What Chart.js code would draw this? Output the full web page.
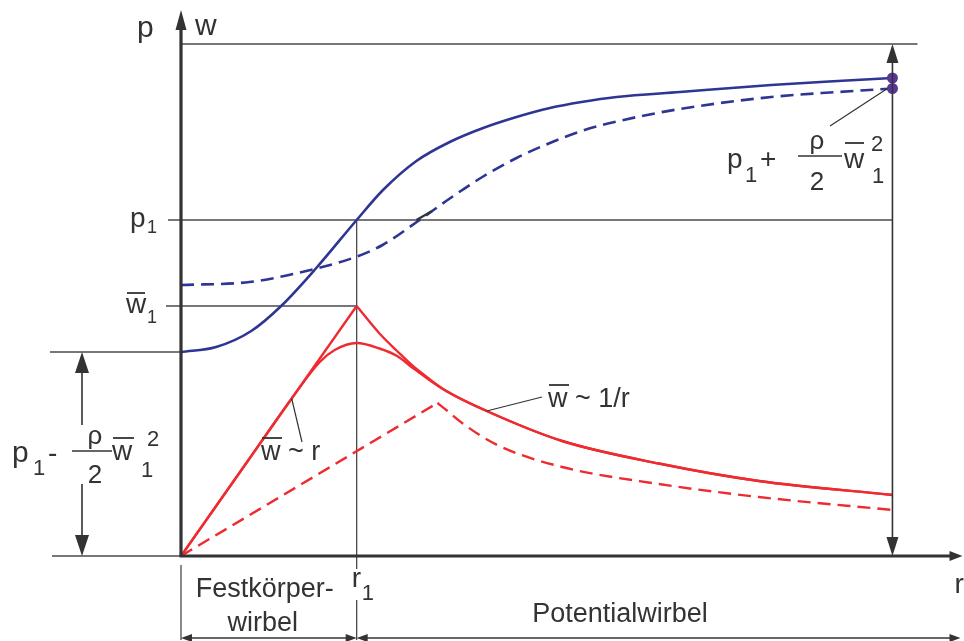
<!DOCTYPE html>
<html>
<head>
<meta charset="utf-8">
<script src="https://cdn.jsdelivr.net/npm/chart.js@4"></script>
<style>
  html, body { margin: 0; padding: 0; background: #fff; }
  #wrap { width: 964px; height: 641px; }
</style>
</head>
<body>
<div id="wrap"><canvas id="vortexChart" width="964" height="641"></canvas></div>
<script>
// r is in units of r1, w and p share one axis (w in units of w1)
const R1 = 1.0;
const R_END = 4.05;
const W1 = 1.0;
const P1 = 1.344;
const P_CORE = 0.816;   // p1 - rho/2 w1^2
const P_TOP = 2.048;    // p1 + rho/2 w1^2

// ideal Rankine vortex velocity: solid body core + potential vortex
const rCore = [0, 1.00];
const wCore = [0, 1.00];
const rPot = [1.00, 1.13, 1.23, 1.32, 1.41, 1.51, 1.74, 2.17, 2.72, 3.29, 4.05];
const wPot = [1.00, 0.89, 0.82, 0.76, 0.71, 0.66, 0.58, 0.46, 0.37, 0.30, 0.244];

// real (smoothed) velocity profile
const rReal = [0, 0.39, 0.62, 0.79, 0.875, 1.00, 1.13, 1.23, 1.32, 1.41, 1.51, 1.74, 2.17, 2.72, 3.29, 4.05];
const wReal = [0, 0.39, 0.62, 0.776, 0.824, 0.852, 0.83, 0.80, 0.752, 0.706, 0.66, 0.58, 0.46, 0.37, 0.30, 0.244];

// second (dashed) velocity profile, larger core
const rCore2 = [0, 1.46];
const wCore2 = [0, 0.612];
const rPot2 = [1.46, 1.51, 1.60, 1.80, 2.17, 2.72, 3.29, 4.05];
const wPot2 = [0.612, 0.584, 0.532, 0.444, 0.356, 0.288, 0.236, 0.184];

// pressure profiles
const rP = [0, 0.20, 0.40, 0.57, 0.77, 1.00, 1.15, 1.34, 1.53, 1.72, 1.91, 2.10, 2.28, 2.48, 2.84, 3.36, 3.74, 4.05];
const pSolid = [0.816, 0.836, 0.90, 1.00, 1.152, 1.344, 1.464, 1.58, 1.656, 1.712, 1.756, 1.792, 1.816, 1.836, 1.856, 1.884, 1.900, 1.912];
const rP2 = [0, 0.39, 0.77, 1.01, 1.15, 1.34, 1.53, 1.72, 1.91, 2.10, 2.28, 2.48, 2.84, 3.36, 3.74, 4.05];
const pDashed = [1.084, 1.096, 1.15, 1.20, 1.245, 1.335, 1.43, 1.518, 1.592, 1.652, 1.70, 1.738, 1.788, 1.836, 1.856, 1.870];

// end points marked on the right
const rDots = [4.05, 4.05];
const pDots = [1.912, 1.870];

const BLUE = '#2e3592';
const RED = '#ee2b30';
const PURPLE = '#5a3797';
const INK = '#333333';
const FONT = '"Liberation Sans", Arial, sans-serif';

const pts = (xs, ys) => xs.map((v, i) => ({ x: v, y: ys[i] }));

function line(ctx, x1, y1, x2, y2) {
  ctx.beginPath();
  ctx.moveTo(x1, y1);
  ctx.lineTo(x2, y2);
  ctx.stroke();
}

// filled arrow head, tip at (x, y), pointing in direction (dx, dy)
function arrowHead(ctx, x, y, dx, dy, len, half) {
  const bx = x - dx * len, by = y - dy * len;
  ctx.beginPath();
  ctx.moveTo(x, y);
  ctx.lineTo(bx - dy * half, by + dx * half);
  ctx.lineTo(bx + dy * half, by - dx * half);
  ctx.closePath();
  ctx.fill();
}

function text(ctx, str, x, y, size, align) {
  ctx.font = size + 'px ' + FONT;
  ctx.textAlign = align || 'left';
  ctx.fillText(str, x, y);
}

function overline(ctx, x1, x2, y) {
  ctx.lineWidth = 1.8;
  line(ctx, x1, y, x2, y);
}

const diagramPlugin = {
  id: 'diagram',
  beforeDatasetsDraw(chart) {
    const { ctx, scales: { x, y } } = chart;
    const X = v => x.getPixelForValue(v);
    const Y = v => y.getPixelForValue(v);
    const x0 = X(0), y0 = Y(0), xr1 = X(R1), xEnd = X(R_END);

    ctx.save();
    ctx.strokeStyle = '#4a4a4a';
    ctx.lineWidth = 1.3;
    line(ctx, x0, Y(P_TOP), xEnd + 25, Y(P_TOP));
    line(ctx, x0 - 13, Y(P1), xEnd, Y(P1));
    line(ctx, x0 - 15, Y(W1), xr1, Y(W1));
    line(ctx, x0 - 131, Y(P_CORE), x0, Y(P_CORE));
    line(ctx, x0 - 129, y0, x0, y0);
    // r1 vertical
    line(ctx, xr1, Y(P1), xr1, y0 + 13);
    line(ctx, xr1, y0 + 44, xr1, y0 + 84);
    // left edge of the bottom dimension
    line(ctx, x0, y0 + 9, x0, y0 + 84);
    ctx.restore();
  },
  afterDatasetsDraw(chart) {
    const { ctx, scales: { x, y }, chartArea } = chart;
    const X = v => x.getPixelForValue(v);
    const Y = v => y.getPixelForValue(v);
    const x0 = X(0), y0 = Y(0), xr1 = X(R1), xEnd = X(R_END);

    ctx.save();
    ctx.fillStyle = INK;
    ctx.strokeStyle = INK;

    // main axes
    ctx.lineWidth = 3.2;
    line(ctx, x0, y0, x0, chartArea.top + 16);
    arrowHead(ctx, x0, chartArea.top, 0, -1, 20, 5.5);
    line(ctx, x0 - 1.5, y0, chartArea.right - 6, y0);
    arrowHead(ctx, chartArea.right + 4, y0, 1, 0, 13, 5);

    // right dimension arrow
    ctx.lineWidth = 1.6;
    line(ctx, xEnd, Y(P_TOP) + 10, xEnd, y0 - 10);
    arrowHead(ctx, xEnd, Y(P_TOP), 0, -1, 19, 6);
    arrowHead(ctx, xEnd, y0, 0, 1, 19, 6);

    // left dimension arrow
    const xl = x0 - 99;
    line(ctx, xl, Y(P_CORE) + 10, xl, 425);
    line(ctx, xl, 484, xl, y0 - 10);
    arrowHead(ctx, xl, Y(P_CORE), 0, -1, 21, 7);
    arrowHead(ctx, xl, y0, 0, 1, 21, 7);

    // bottom dimension arrows
    const yb = y0 + 82;
    ctx.lineWidth = 1.4;
    line(ctx, x0 + 4, yb, xr1 - 4, yb);
    line(ctx, xr1 + 4, yb, chartArea.right - 4, yb);
    arrowHead(ctx, x0, yb, -1, 0, 11, 4);
    arrowHead(ctx, xr1, yb, 1, 0, 11, 4);
    arrowHead(ctx, xr1, yb, -1, 0, 11, 4);
    arrowHead(ctx, chartArea.right + 2, yb, 1, 0, 11, 4);

    // leader lines
    ctx.lineWidth = 1.2;
    line(ctx, 302, 442, X(0.63), Y(0.63));
    line(ctx, 542, 397, X(1.74), Y(0.58));
    line(ctx, 830, 126, xEnd - 5, Y(1.870));
    ctx.lineWidth = 2.2;
    line(ctx, X(1.34), Y(P1), X(1.43), Y(1.38));

    // axis names
    text(ctx, 'p', x0 - 44, 37, 30);
    text(ctx, 'w', x0 + 14, 35, 30);
    text(ctx, 'r', chartArea.right - 4, y0 + 37, 28);

    // level labels
    text(ctx, 'p', x0 - 51, Y(P1) + 7, 28);
    text(ctx, '1', x0 - 34, Y(P1) + 13, 18);
    text(ctx, 'w', x0 - 55, Y(W1) + 7, 28);
    overline(ctx, x0 - 54, x0 - 36, Y(W1) - 13);
    text(ctx, '1', x0 - 34, Y(W1) + 17, 18);

    // p1 - rho/2 w1^2
    text(ctx, 'p', 12, 462, 30);
    text(ctx, '1', 33, 475, 22);
    text(ctx, '-', 48, 462, 28);
    ctx.lineWidth = 1.6;
    line(ctx, 72, 451, 112, 451);
    text(ctx, 'ρ', 95, 444, 26, 'center');
    text(ctx, '2', 95, 483, 26, 'center');
    text(ctx, 'w', 112, 460, 28);
    overline(ctx, 113, 134, 438);
    text(ctx, '1', 141, 477, 22);
    text(ctx, '2', 147, 446, 22);

    // p1 + rho/2 w1^2
    text(ctx, 'p', 727, 168, 28);
    text(ctx, '1', 745, 182, 22);
    text(ctx, '+', 760, 168, 28);
    ctx.lineWidth = 1.6;
    line(ctx, 798, 156, 842, 156);
    text(ctx, 'ρ', 817, 149, 26, 'center');
    text(ctx, '2', 817, 190, 26, 'center');
    text(ctx, 'w', 844, 168, 28);
    overline(ctx, 845, 864, 143);
    text(ctx, '2', 871, 151, 22);
    text(ctx, '1', 872, 183, 22);

    // curve labels
    text(ctx, 'w ~ r', 261, 460, 27);
    overline(ctx, 262, 282, 438);
    text(ctx, 'w ~ 1/r', 548, 407, 27);
    overline(ctx, 549, 569, 385);

    // r1 and regions
    text(ctx, 'r', xr1 - 5, y0 + 31, 28);
    text(ctx, '1', xr1 + 5, y0 + 44, 22);
    text(ctx, 'Festkörper-', (x0 + xr1) / 2 - 4, y0 + 41, 27, 'center');
    text(ctx, 'wirbel', (x0 + xr1) / 2 - 6, y0 + 75, 27, 'center');
    text(ctx, 'Potentialwirbel', 620, y0 + 66, 27, 'center');
    ctx.restore();
  }
};

new Chart(document.getElementById('vortexChart'), {
  type: 'scatter',
  data: {
    datasets: [
      { data: pts(rDots, pDots), showLine: false, pointRadius: 5.5, pointBackgroundColor: PURPLE, pointBorderWidth: 0 },
      { data: pts(rP, pSolid), showLine: true, borderColor: BLUE, borderWidth: 2.6, pointRadius: 0, cubicInterpolationMode: 'monotone' },
      { data: pts(rP2, pDashed), showLine: true, borderColor: BLUE, borderWidth: 2.6, pointRadius: 0, borderDash: [13, 7], cubicInterpolationMode: 'monotone' },
      { data: pts(rCore, wCore), showLine: true, borderColor: RED, borderWidth: 2.4, pointRadius: 0 },
      { data: pts(rPot, wPot), showLine: true, borderColor: RED, borderWidth: 2.4, pointRadius: 0, cubicInterpolationMode: 'monotone' },
      { data: pts(rReal, wReal), showLine: true, borderColor: RED, borderWidth: 2.4, pointRadius: 0, cubicInterpolationMode: 'monotone' },
      { data: pts(rCore2, wCore2), showLine: true, borderColor: RED, borderWidth: 2.4, pointRadius: 0, borderDash: [13, 7] },
      { data: pts(rPot2, wPot2), showLine: true, borderColor: RED, borderWidth: 2.4, pointRadius: 0, borderDash: [13, 7], cubicInterpolationMode: 'monotone' }
    ]
  },
  options: {
    responsive: false,
    animation: false,
    layout: { padding: { left: 181, right: 4, top: 10, bottom: 85 } },
    scales: {
      x: { type: 'linear', display: false, min: 0, max: 4.426 },
      y: { type: 'linear', display: false, min: 0, max: 2.184 }
    },
    plugins: {
      legend: { display: false },
      tooltip: { enabled: false }
    }
  },
  plugins: [diagramPlugin]
});
</script>
</body>
</html>
